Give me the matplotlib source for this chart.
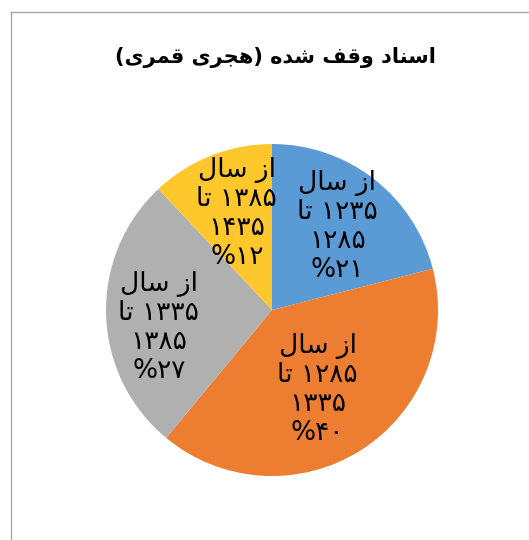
import re
import numpy as np
import matplotlib
matplotlib.use("Agg")
import matplotlib.pyplot as plt
from matplotlib.lines import Line2D

plt.rcParams["font.family"] = ["DejaVu Sans"]

title = "اسناد وقف شده (هجری قمری)"
start_years = [1235, 1285, 1335, 1385]
end_years = [1285, 1335, 1385, 1435]
shares = [21, 40, 27, 12]
colors = ["#5B9BD5", "#ED7D31", "#B0B0B0", "#FEC72B"]

# arabic letters -> (isolated, final, initial, medial)
forms = {
    "ا": ("\uFE8D", "\uFE8E", None, None),
    "د": ("\uFEA9", "\uFEAA", None, None),
    "ر": ("\uFEAD", "\uFEAE", None, None),
    "ز": ("\uFEAF", "\uFEB0", None, None),
    "و": ("\uFEED", "\uFEEE", None, None),
    "س": ("\uFEB1", "\uFEB2", "\uFEB3", "\uFEB4"),
    "ش": ("\uFEB5", "\uFEB6", "\uFEB7", "\uFEB8"),
    "ت": ("\uFE95", "\uFE96", "\uFE97", "\uFE98"),
    "ن": ("\uFEE5", "\uFEE6", "\uFEE7", "\uFEE8"),
    "ق": ("\uFED5", "\uFED6", "\uFED7", "\uFED8"),
    "ف": ("\uFED1", "\uFED2", "\uFED3", "\uFED4"),
    "ل": ("\uFEDD", "\uFEDE", "\uFEDF", "\uFEE0"),
    "م": ("\uFEE1", "\uFEE2", "\uFEE3", "\uFEE4"),
    "ه": ("\uFEE9", "\uFEEA", "\uFEEB", "\uFEEC"),
    "ج": ("\uFE9D", "\uFE9E", "\uFE9F", "\uFEA0"),
    "ی": ("\uFBFC", "\uFBFD", "\uFBFE", "\uFBFF"),
}


def shape(text):
    out = []
    for i, ch in enumerate(text):
        if ch not in forms:
            out.append(ch)
            continue
        prev = text[i - 1] if i > 0 else ""
        nxt = text[i + 1] if i + 1 < len(text) else ""
        jp = prev in forms and forms[prev][2] is not None
        jn = forms[ch][2] is not None and nxt in forms
        iso, fin, ini, med = forms[ch]
        if jp and jn:
            out.append(med)
        elif jp:
            out.append(fin)
        elif jn:
            out.append(ini)
        else:
            out.append(iso)
    return "".join(out)


def rtl(text):
    s = shape(text)[::-1]
    s = s.translate(str.maketrans("()", ")("))
    return re.sub(r"[۰-۹0-9%]+", lambda m: m.group(0)[::-1], s)


def fa(n):
    return str(n).translate(str.maketrans("0123456789", "۰۱۲۳۴۵۶۷۸۹"))


labels = []
for a, b, p in zip(start_years, end_years, shares):
    lines = ["از سال", fa(a) + " تا", fa(b), "%" + fa(p)]
    labels.append("\n".join(rtl(l) for l in lines))

fig = plt.figure(figsize=(5.29, 5.40), dpi=100)

# chart area frame (runs off the right and bottom edges)
fig.add_artist(Line2D([11 / 529, 1], [1 - 12 / 540] * 2, color="#A6A6A6", lw=1))
fig.add_artist(Line2D([11 / 529] * 2, [0, 1 - 12 / 540], color="#A6A6A6", lw=1))

cx, cy, r = 272 / 529, 1 - 310 / 540, 166
ax = fig.add_axes([cx - r / 529, cy - r / 540, 2 * r / 529, 2 * r / 540])
wedges, texts = ax.pie(shares, colors=colors, startangle=90, counterclock=False,
                       labels=labels, labeldistance=0.6,
                       textprops=dict(fontsize=19, ha="center", va="center",
                                      linespacing=1.15))
ax.set_xlim(-1, 1)
ax.set_ylim(-1, 1)
ax.set_aspect("equal")
ax.axis("off")

# label placement like the best-fit layout in the source
dists = [0.64, 0.55, 0.69, 0.62]
angles = [52, -60, 189, 110]
for t, d, a in zip(texts, dists, angles):
    t.set_position((d * np.cos(np.radians(a)), d * np.sin(np.radians(a))))

fig.text(275 / 529, 1 - 57 / 540, rtl(title), ha="center", va="center",
         fontsize=15, fontweight="bold")

fig.savefig("out.png", dpi=100)
